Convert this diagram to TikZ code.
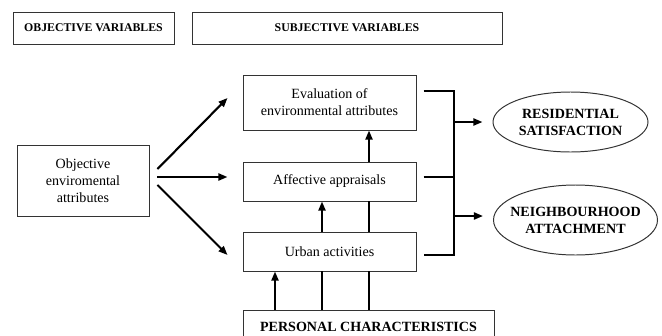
\documentclass[tikz,border=0pt]{standalone}
\usepackage{fontspec}
\setmainfont{Liberation Serif}
\usetikzlibrary{arrows.meta,shapes.geometric}

\begin{document}
\begin{tikzpicture}[x=0.025cm, y=-0.025cm,
    box/.style={draw=black!80, line width=0.7pt, rectangle, inner sep=0pt, align=center, font=\fontsize{10}{12}\selectfont},
    head/.style={box, font=\bfseries\fontsize{8.4}{10}\selectfont},
    goal/.style={draw=black!80, line width=0.7pt, ellipse, inner sep=0pt, inner xsep=-8pt, align=center, font=\bfseries\fontsize{10}{12}\selectfont},
    link/.style={line width=1.5pt},
    arr/.style={link, -{Triangle[length=6.5pt,width=5pt]}}]

                  \useasboundingbox (0,0) rectangle (662,335);

                  \node[head, minimum width=161*0.025cm, minimum height=32*0.025cm] (objvar) at (93.5,28) {OBJECTIVE VARIABLES};
                  \node[head, minimum width=310*0.025cm, minimum height=32*0.025cm] (subjvar) at (347,28) {SUBJECTIVE VARIABLES};

                  \node[box, minimum width=132*0.025cm, minimum height=71*0.025cm] (objenv) at (83,180.5) {Objective\\ enviromental\\ attributes};

                  \node[box, minimum width=173*0.025cm, minimum height=55*0.025cm] (eval) at (329.5,102.5) {Evaluation of\\ environmental attributes};
                  \node[box, minimum width=173*0.025cm, minimum height=39*0.025cm] (affect) at (329.5,181.5) {Affective appraisals};
                  \node[box, minimum width=173*0.025cm, minimum height=39*0.025cm] (urban) at (329.5,251.5) {Urban activities};
                  \node[box, font=\bfseries\fontsize{10}{12}\selectfont, minimum width=251*0.025cm, minimum height=40*0.025cm, text depth=5pt] (personal) at (368.5,330) {PERSONAL CHARACTERISTICS};

                  \node[goal, minimum width=155*0.025cm, minimum height=60*0.025cm] (ressat) at (570.5,122) {RESIDENTIAL\\ SATISFACTION};
                  \node[goal, minimum width=164*0.025cm, minimum height=70*0.025cm] (neigh) at (575.5,220) {NEIGHBOURHOOD\\ ATTACHMENT};

                  % objective attributes feed the three subjective boxes
                  \draw[arr] ([shift={(8,-11.5)}]objenv.east) -- ([shift={(-15,-4.5)}]eval.west);
                  \draw[arr] ([shift={(8,-3.5)}]objenv.east) -- ([shift={(-15,-4.5)}]affect.west);
                  \draw[arr] ([shift={(8,4.5)}]objenv.east) -- ([shift={(-15,3.5)}]urban.west);

                  % personal characteristics going up
                  \coordinate (lane1) at (275,0);
                  \coordinate (lane2) at (322,0);
                  \coordinate (lane3) at (369,0);
                  \draw[arr] (lane1 |- personal.north) -- (lane1 |- urban.south);
                  \draw[link] (lane2 |- personal.north) -- (lane2 |- urban.south);
                  \draw[arr] (lane2 |- urban.north) -- (lane2 |- affect.south);
                  \draw[link] (lane3 |- personal.north) -- (lane3 |- urban.south);
                  \draw[link] (lane3 |- urban.north) -- (lane3 |- affect.south);
                  \draw[arr] (lane3 |- affect.north) -- (lane3 |- eval.south);

                  % collecting line on the right
                  \coordinate (bus) at (454,0);
                  \coordinate (e1) at ([shift={(7,-11.5)}]eval.east);
                  \coordinate (a1) at ([shift={(7,-4.5)}]affect.east);
                  \coordinate (u1) at ([shift={(7,3.5)}]urban.east);
                  \draw[link] (e1) -- (bus |- e1) -- (bus |- u1) -- (u1);
                  \draw[link] (a1) -- (bus |- a1);
                  \draw[arr] (bus |- ressat.west) -- ([shift={(-10,0)}]ressat.west);
                  \draw[arr] (bus |- neigh.west) ++(0,-4) -- ([shift={(-10,-4)}]neigh.west);

              \end{tikzpicture}
\end{document}
